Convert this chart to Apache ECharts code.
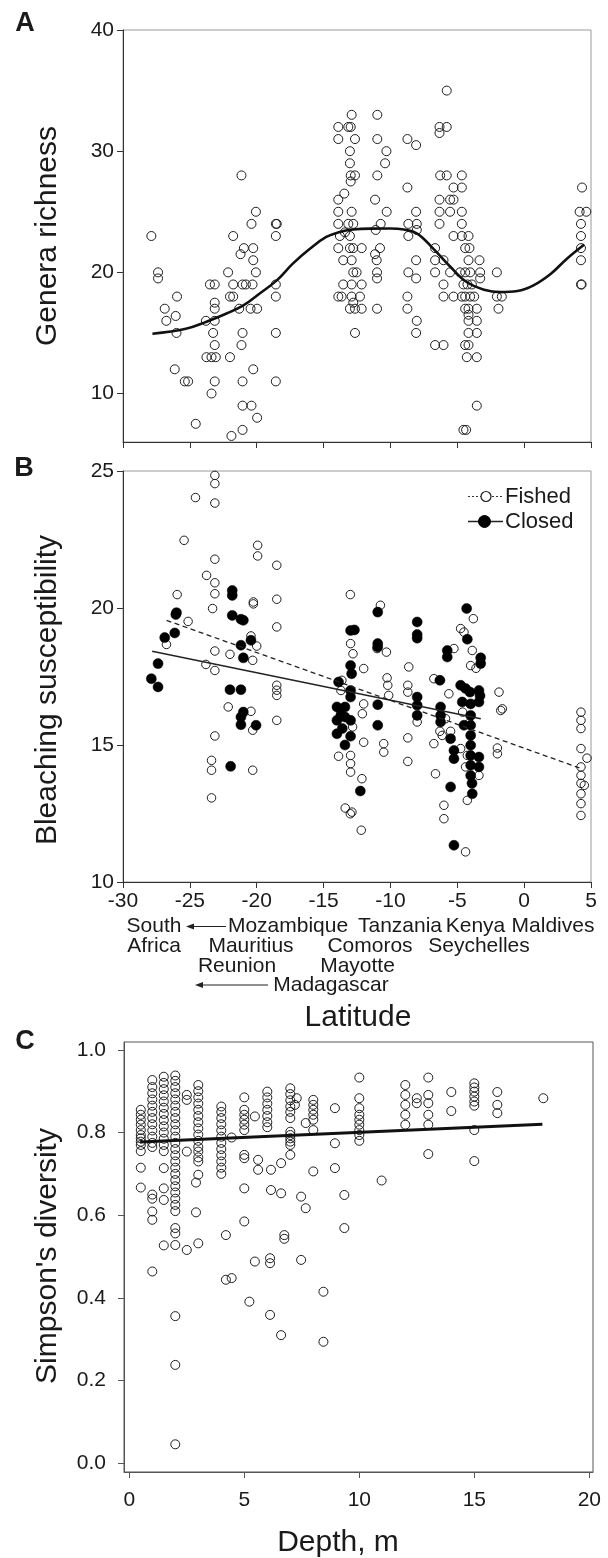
<!DOCTYPE html>
<html><head><meta charset="utf-8">
<script src="https://cdn.jsdelivr.net/npm/echarts@6/dist/echarts.min.js"></script>
<style>html,body{margin:0;padding:0;background:#fff}#c{width:608px;height:1558px}</style>
</head><body><div id="c"></div>
<script>
const FONT = '"Liberation Sans", Arial, Helvetica, sans-serif';

// ---- tick values ----
const latTicks = [-30, -25, -20, -15, -10, -5, 0, 5];
const richTicks = [10, 20, 30, 40];
const bleachTicks = [10, 15, 20, 25];
const depthTicks = [0, 5, 10, 15, 20];
const simpTicks = [0, 0.2, 0.4, 0.6, 0.8, 1.0];

// ---- Panel A: [latitude, genera richness] ----
const pointsA = [
  [-27.88,23],[-27.38,20],[-27.38,19.5],[-26.88,17],[-26.76,16],[-26.06,16.4],[-25.96,18],[-26.0,15],[-26.13,12],
  [-25.38,11],[-25.13,11],[-24.56,7.5],[-23.8,16],[-23.5,19],[-23.14,19],[-23.14,17.5],[-23.14,17],[-23.14,16],
  [-23.26,15],[-23.14,14],[-23.76,13],[-23.38,13],[-23.06,13],[-23.14,11],[-23.38,10],
  [-21.76,23],[-22.14,20],[-22.0,18],[-21.76,18],[-21.76,19],[-21.06,19],[-20.81,19],[-20.31,19],[-21.31,17],
  [-20.46,17],[-19.97,17],[-20.96,22],[-20.26,22],[-21.21,21.5],[-20.26,21],[-20.06,20],[-20.39,24],[-20.06,25],
  [-21.14,28],[-21.06,15],[-21.14,14],[-22.0,13],[-20.26,12],[-21.06,11],[-21.06,9],[-20.39,9],[-19.97,8],
  [-21.06,7],[-21.89,6.5],
  [-18.57,24],[-18.5,24],[-18.57,23],[-18.57,19],[-18.57,18],[-18.57,15],[-18.57,11],
  [-12.9,33],[-13.9,32],[-13.15,32],[-12.97,32],[-13.9,31],[-12.65,31],[-13.03,30],[-13.03,29],[-12.97,28],
  [-12.65,28],[-12.97,27.5],[-13.45,26.5],[-13.9,26],[-13.9,25],[-12.9,25],[-13.9,24],[-13.15,24],[-12.78,24],
  [-13.78,23],[-13.03,23],[-13.4,23.3],[-13.9,22],[-13.03,22],[-12.78,22],[-12.15,22],[-13.53,21],[-12.9,21],
  [-12.78,20],[-12.53,20],[-13.53,19],[-12.9,19],[-12.15,19],[-13.9,18],[-13.65,18],[-12.9,18],[-12.28,18],
  [-13.03,17],[-12.65,17],[-12.15,17],[-12.78,17.5],[-12.65,15],
  [-10.98,33],[-10.98,31],[-10.3,30],[-10.4,29],[-10.98,28],[-11.15,26],[-10.28,25],[-10.73,24],[-11.1,23.5],
  [-10.78,22],[-11.15,21.5],[-11.03,21],[-11.0,20],[-11.0,19.5],[-11.0,17],
  [-8.73,31],[-8.08,30.5],[-8.73,27],[-8.66,24],[-8.03,24],[-8.66,23],[-8.03,23.5],[-8.08,25],[-8.08,21],
  [-8.66,20],[-8.08,19.5],[-8.73,18],[-8.73,17],[-8.03,16],[-8.08,15],[-6.66,14],[-6.03,14],
  [-5.79,35],[-6.33,32],[-5.79,32],[-6.33,31.5],[-6.28,28],[-5.79,28],[-4.66,28],[-5.28,27],[-4.66,27],
  [-6.33,26],[-5.54,26],[-5.28,26],[-6.33,25],[-5.54,25],[-4.66,25],[-6.33,24],[-4.66,24],[-5.28,23],
  [-4.66,23],[-4.16,23],[-6.66,22],[-4.41,22],[-4.09,22],[-6.66,21],[-6.03,21],[-4.16,21],[-3.34,21],
  [-6.66,20],[-5.54,20],[-4.79,20],[-4.41,20],[-4.04,20],[-3.29,20],[-6.03,19],[-4.54,19],[-4.24,19],
  [-3.91,19],[-3.29,19.5],[-6.03,18],[-5.28,18],[-4.66,18],[-4.41,18],[-4.04,18],[-3.74,18],[-4.41,17],
  [-4.16,17],[-3.54,17],[-4.16,16.5],[-4.16,16],[-3.54,16],[-4.16,15],[-3.54,15],[-4.41,14],[-4.16,14],
  [-4.29,13],[-3.54,13],[-3.54,9],[-4.54,7],[-4.34,7],
  [-2.04,20],[-2.04,18],[-1.67,18],[-1.92,17],
  [4.33,27],[4.15,25],[4.65,25],[4.25,24],[4.25,23],[4.25,22],[4.25,21],[4.25,19],[4.3,19]
];
// smooth fit, panel A
const curveA = [
  [-27.8,14.93],[-25.3,15.34],[-23.8,15.9],[-22.3,16.58],[-21.0,17.27],[-19.8,18.24],[-18.5,19.34],[-17.3,20.72],
  [-16.0,21.96],[-14.8,22.92],[-13.8,23.33],[-12.8,23.53],[-11.5,23.61],[-10.0,23.62],[-9.0,23.53],[-8.0,23.2],
  [-6.8,21.96],[-5.5,20.44],[-4.3,19.2],[-3.0,18.57],[-1.8,18.37],[-0.5,18.46],[0.7,18.93],[2.0,19.89],
  [3.2,21.13],[4.5,22.3]
];

// ---- Panel B: [latitude, bleaching susceptibility] ----
const fished = [
  [-23.13,24.84],[-23.13,24.54],[-23.13,23.83],[-24.58,24.03],[-25.43,22.47],[-23.13,21.78],[-23.75,21.19],
  [-23.13,20.92],[-23.13,20.52],[-23.3,19.98],[-25.95,20.49],[-25.13,19.51],[-26.75,18.67],[-23.13,18.43],
  [-22.0,18.31],[-23.8,17.94],[-23.13,17.72],[-22.13,16.39],[-23.13,15.33],[-23.38,14.44],[-23.38,14.08],
  [-23.38,13.07],[-19.93,22.29],[-19.93,21.9],[-18.5,21.56],[-20.25,20.22],[-20.25,20.15],[-18.5,20.32],
  [-18.5,19.31],[-20.43,18.98],[-20.0,18.61],[-20.3,18.09],[-18.5,17.18],[-18.5,17.0],[-18.5,16.81],
  [-20.43,16.23],[-18.5,15.9],[-20.3,15.54],[-20.3,14.08],
  [-13.0,20.49],[-13.63,17.36],[-13.88,14.59],[-13.38,12.7],[-13.0,12.49],[-12.98,18.7],[-12.8,18.33],
  [-13.7,16.99],[-12.98,14.62],[-12.98,14.32],[-12.98,14.01],[-12.83,15.66],[-12.13,13.77],[-12.18,11.89],
  [-12.88,12.55],[-12.0,15.1],[-12.0,16.5],[-12.0,17.79],[-12.1,16.14],
  [-10.75,20.1],[-10.3,18.39],[-8.63,17.85],[-8.7,17.18],[-8.7,16.93],[-10.25,17.45],[-10.2,17.18],
  [-10.13,16.81],[-11.0,18.52],[-10.5,15.05],[-10.5,14.74],[-8.7,15.26],[-8.7,14.4],[-8.0,16.08],[-8.0,15.84],
  [-6.75,17.42],[-6.3,17.36],[-5.63,16.87],[-5.25,18.52],[-5.88,15.96],[-6.13,15.35],[-6.75,15.05],[-5.5,15.5],
  [-6.63,13.95],[-6.0,12.8],[-6.0,12.31],[-4.75,19.25],[-4.5,19.12],[-3.8,19.61],[-3.88,18.45],[-4.0,17.9],
  [-4.38,11.1],[-4.25,12.98],[-4.38,14.2],[-4.75,14.87],[-4.25,14.62],[-3.38,13.89],[-6.3,15.5],[-4.6,16.2],
  [-3.6,17.8],[-4.1,15.8],
  [-1.88,16.93],[-1.75,16.26],[-1.63,16.32],[-2.0,14.89],[-2.0,14.68],
  [4.25,16.2],[4.25,15.9],[4.25,15.6],[4.25,14.87],[4.7,14.52],[4.25,14.2],[4.25,13.89],[4.25,13.6],
  [4.5,13.53],[4.25,13.22],[4.25,12.86],[4.25,12.43]
];
const closed = [
  [-27.88,17.42],[-27.38,17.12],[-27.38,17.97],[-26.88,18.92],[-26.13,19.09],[-26.05,19.76],[-26.0,19.83],
  [-21.83,20.64],[-21.83,20.46],[-21.83,19.73],[-21.18,19.59],[-21.0,19.55],[-21.18,18.64],[-20.43,18.82],
  [-21.0,18.18],[-22.0,17.02],[-21.18,17.02],[-21.0,16.2],[-21.18,16.02],[-21.18,15.74],[-20.05,15.72],
  [-21.95,14.22],
  [-13.88,17.3],[-14.0,16.39],[-14.0,15.9],[-14.0,15.41],[-13.4,16.39],[-13.4,16.02],[-13.7,16.1],[-13.6,15.6],
  [-13.4,15.0],[-12.98,19.18],[-12.69,19.2],[-12.98,17.9],[-12.98,16.99],[-12.98,16.75],[-12.98,15.9],
  [-12.98,15.32],[-12.25,13.32],[-12.9,17.6],
  [-10.95,19.85],[-10.95,18.7],[-10.95,18.58],[-10.95,16.47],[-10.95,15.72],[-8.0,19.49],[-8.0,19.03],
  [-8.0,18.9],[-8.0,16.75],[-8.0,16.45],[-8.0,16.08],[-5.75,18.45],[-5.75,18.21],[-6.3,17.36],[-6.25,16.39],
  [-6.25,16.08],[-6.25,15.84],[-5.5,15.23],[-5.25,14.8],[-5.25,14.5],[-5.5,13.47],[-5.25,11.34],[-4.3,19.98],
  [-4.25,18.86],[-4.75,17.18],[-4.38,17.06],[-4.05,16.93],[-4.0,16.5],[-4.0,16.08],[-4.0,15.72],[-4.0,15.35],
  [-4.0,14.99],[-4.0,14.62],[-4.0,14.26],[-4.0,13.89],[-3.88,13.22],[-3.25,18.18],[-3.25,17.97],[-3.38,16.99],
  [-3.38,16.57],[-3.38,14.56],[-3.38,14.2],[-4.63,16.57],[-4.5,15.72],[-3.9,13.6],[-3.3,16.8]
];
const fishedFit = [[-26.74,19.55],[4.26,14.14]];
const closedFit = [[-27.82,18.42],[-3.24,15.96]];

// ---- Panel C: [depth, list of Simpson's diversity values] ----
const simpsonCols = [
  [0.5,[0.855,0.843,0.831,0.819,0.806,0.794,0.786,0.778,0.770,0.755,0.715,0.667]],
  [1.0,[0.927,0.91,0.895,0.88,0.865,0.85,0.835,0.82,0.805,0.79,0.775,0.765,0.65,0.64,0.609,0.589,0.464]],
  [1.5,[0.935,0.92,0.905,0.89,0.875,0.86,0.845,0.83,0.815,0.80,0.785,0.77,0.755,0.714,0.665,0.637,0.527]],
  [2.0,[0.938,0.925,0.91,0.895,0.88,0.865,0.85,0.835,0.82,0.805,0.79,0.775,0.76,0.745,0.73,0.715,0.70,0.685,
        0.67,0.655,0.64,0.625,0.61,0.569,0.556,0.528,0.356,0.238,0.046]],
  [2.5,[0.891,0.879,0.754,0.516]],
  [2.9,[0.679,0.607]],
  [3.0,[0.915,0.90,0.885,0.87,0.855,0.84,0.825,0.81,0.795,0.78,0.765,0.754,0.74,0.73,0.698,0.532]],
  [4.0,[0.863,0.85,0.835,0.82,0.805,0.79,0.775,0.76,0.745,0.73,0.715,0.70]],
  [4.2,[0.552,0.444]],
  [4.45,[0.788,0.448]],
  [5.0,[0.885,0.855,0.843,0.831,0.819,0.806,0.746,0.738,0.665,0.585]],
  [5.22,[0.391]],
  [5.46,[0.839,0.488]],
  [5.6,[0.734,0.71]],
  [6.0,[0.899,0.885,0.87,0.855,0.84,0.825,0.813]],
  [6.16,[0.71,0.661]],
  [6.12,[0.496,0.484,0.359]],
  [6.6,[0.726,0.653,0.31]],
  [6.74,[0.552,0.543]],
  [7.0,[0.907,0.893,0.878,0.863,0.85,0.835,0.802,0.794,0.786,0.778,0.77,0.746]],
  [7.2,[0.867]],
  [7.28,[0.883]],
  [7.47,[0.645,0.492]],
  [7.67,[0.823,0.617]],
  [8.0,[0.879,0.867,0.855,0.843,0.831,0.806,0.706]],
  [8.44,[0.415,0.294]],
  [8.94,[0.859,0.774,0.714]],
  [9.35,[0.649,0.569]],
  [10.0,[0.933,0.883,0.859,0.843,0.831,0.819,0.806,0.794,0.78]],
  [10.97,[0.684]],
  [12.0,[0.915,0.891,0.867,0.843,0.819]],
  [12.5,[0.883,0.871]],
  [13.0,[0.933,0.891,0.871,0.843,0.819,0.748]],
  [14.0,[0.898,0.852]],
  [15.0,[0.919,0.909,0.899,0.887,0.875,0.865,0.806,0.731]],
  [16.0,[0.898,0.867,0.847]],
  [18.0,[0.883]]
];
const depthFit = [[0.47,0.777],[17.96,0.820]];

const pointsC = simpsonCols.flatMap(([d, vals]) => vals.map(v => [d, v]));

// ---- styling helpers ----
const TXT = '#1a1a1a';
function xAx(grid, opt) {
  return Object.assign({
    gridIndex: grid, type: 'value',
    axisLine: {show: true, onZero: false, lineStyle: {color: '#333', width: 1}},
    axisTick: {show: true, length: 6, lineStyle: {color: '#333', width: 1}},
    axisLabel: {show: true, fontSize: 21, fontFamily: FONT, color: TXT, margin: 9},
    splitLine: {show: false}
  }, opt);
}
const openStyle = {color: 'rgba(255,255,255,0)', borderColor: '#1e1e1e', borderWidth: 1, opacity: 1};

const graphics = [];
function txt(x, y, text, size, extra) {
  graphics.push(Object.assign({
    type: 'text', x: x, y: y, silent: true,
    style: {text: text, fill: TXT, font: size + 'px ' + FONT, align: 'center', verticalAlign: 'middle'}
  }, extra || {}));
}
// panel letters
txt(25, 24, 'A', 'bold 27');
txt(24, 469, 'B', 'bold 27');
txt(25, 1042, 'C', 'bold 27');
// axis titles
txt(48, 236, 'Genera richness', 30, {rotation: Math.PI / 2});
txt(48, 690, 'Bleaching susceptibility', 30, {rotation: Math.PI / 2});
txt(48, 1256, "Simpson's diversity", 30, {rotation: Math.PI / 2});
txt(358, 1018, 'Latitude', 30);
txt(338, 1543, 'Depth, m', 30);
// country labels under latitude axis
txt(154, 926.5, 'South', 21);
txt(288, 926.5, 'Mozambique', 21);
txt(400, 926.5, 'Tanzania', 21);
txt(475.5, 926.5, 'Kenya', 21);
txt(553, 926.5, 'Maldives', 21);
txt(154, 946.5, 'Africa', 21);
txt(251, 946.5, 'Mauritius', 21);
txt(370, 946.5, 'Comoros', 21);
txt(479, 946.5, 'Seychelles', 21);
txt(237, 966.5, 'Reunion', 21);
txt(357.5, 966.5, 'Mayotte', 21);
txt(331, 985, 'Madagascar', 21);
// arrows
function arrow(x1, x2, y) {
  graphics.push({type: 'line', silent: true, shape: {x1: x1, y1: y, x2: x2 + 5, y2: y}, style: {stroke: '#222', lineWidth: 1.2}});
  graphics.push({type: 'polygon', silent: true, shape: {points: [[x2, y], [x2 + 8, y - 3], [x2 + 8, y + 3]]}, style: {fill: '#222'}});
}
arrow(226, 186, 926.5);
arrow(268, 195, 985);
// legend (panel B)
graphics.push({type: 'line', silent: true, shape: {x1: 468, y1: 496.5, x2: 503, y2: 496.5}, style: {stroke: '#333', lineWidth: 1.2, lineDash: [2, 2]}});
graphics.push({type: 'circle', silent: true, shape: {cx: 486, cy: 496.5, r: 5}, style: {fill: '#fff', stroke: '#1e1e1e', lineWidth: 1.2}});
graphics.push({type: 'line', silent: true, shape: {x1: 468, y1: 521.5, x2: 503, y2: 521.5}, style: {stroke: '#222', lineWidth: 1.4}});
graphics.push({type: 'circle', silent: true, shape: {cx: 484.5, cy: 521.5, r: 6}, style: {fill: '#000', stroke: '#000', lineWidth: 1}});
txt(505, 496.5, 'Fished', 22, {style: {text: 'Fished', fill: TXT, font: '22px ' + FONT, align: 'left', verticalAlign: 'middle'}});
txt(505, 521.5, 'Closed', 22, {style: {text: 'Closed', fill: TXT, font: '22px ' + FONT, align: 'left', verticalAlign: 'middle'}});

const option = {
  animation: false,
  backgroundColor: '#fff',
  textStyle: {fontFamily: FONT},
  grid: [
    {left: 123, top: 30, width: 468, height: 412, show: true, borderColor: '#9a9a9a', borderWidth: 1, backgroundColor: 'transparent'},
    {left: 123, top: 471, width: 468, height: 411, show: true, borderColor: '#9a9a9a', borderWidth: 1, backgroundColor: 'transparent'},
    {left: 124, top: 1042, width: 469, height: 430, show: true, borderColor: '#555', borderWidth: 1, backgroundColor: 'transparent'}
  ],
  xAxis: [
    xAx(0, {min: latTicks[0], max: latTicks[latTicks.length - 1], interval: 5, axisLabel: {show: false}}),
    xAx(1, {min: latTicks[0], max: latTicks[latTicks.length - 1], interval: 5}),
    xAx(2, {min: -0.23, max: 20.16,
      axisLine: {show: true, onZero: false, lineStyle: {color: '#555', width: 1}},
      axisTick: {show: true, length: 6, customValues: depthTicks, lineStyle: {color: '#555'}},
      axisLabel: {show: true, customValues: depthTicks, fontSize: 21, fontFamily: FONT, color: TXT, margin: 18}})
  ],
  yAxis: [
    xAx(0, {min: 6, max: 40,
      axisTick: {show: true, length: 6, customValues: richTicks, lineStyle: {color: '#333'}},
      axisLabel: {show: true, customValues: richTicks, fontSize: 21, fontFamily: FONT, color: TXT, margin: 9}}),
    xAx(1, {min: bleachTicks[0], max: bleachTicks[bleachTicks.length - 1], interval: 5}),
    xAx(2, {min: -0.021, max: 1.019,
      axisLine: {show: true, onZero: false, lineStyle: {color: '#555', width: 1}},
      axisTick: {show: true, length: 6, customValues: simpTicks, lineStyle: {color: '#555'}},
      axisLabel: {show: true, customValues: simpTicks, fontSize: 21, fontFamily: FONT, color: TXT, margin: 18,
        formatter: v => Number(v).toFixed(1)}})
  ],
  series: [
    {type: 'scatter', xAxisIndex: 0, yAxisIndex: 0, data: pointsA, symbol: 'circle', symbolSize: 9, itemStyle: openStyle, z: 2, silent: true},
    {type: 'line', xAxisIndex: 0, yAxisIndex: 0, data: curveA, smooth: 0.4, showSymbol: false, lineStyle: {color: '#111', width: 2.6}, z: 4, silent: true},
    {name: 'Fished', type: 'scatter', xAxisIndex: 1, yAxisIndex: 1, data: fished, symbol: 'circle', symbolSize: 8.5, itemStyle: openStyle, z: 2, silent: true},
    {name: 'Closed', type: 'scatter', xAxisIndex: 1, yAxisIndex: 1, data: closed, symbol: 'circle', symbolSize: 10, itemStyle: {color: '#000', borderColor: '#000', borderWidth: 0.5, opacity: 1}, z: 3, silent: true},
    {type: 'line', xAxisIndex: 1, yAxisIndex: 1, data: fishedFit, showSymbol: false, lineStyle: {color: '#222', width: 1.3, type: [5, 3.5]}, z: 4, silent: true},
    {type: 'line', xAxisIndex: 1, yAxisIndex: 1, data: closedFit, showSymbol: false, lineStyle: {color: '#222', width: 1.4}, z: 4, silent: true},
    {type: 'scatter', xAxisIndex: 2, yAxisIndex: 2, data: pointsC, symbol: 'circle', symbolSize: 9, itemStyle: openStyle, z: 2, silent: true},
    {type: 'line', xAxisIndex: 2, yAxisIndex: 2, data: depthFit, showSymbol: false, lineStyle: {color: '#111', width: 3}, z: 4, silent: true}
  ],
  graphic: {elements: graphics}
};
const chart = echarts.init(document.getElementById('c'), null, {renderer: 'canvas'});
chart.setOption(option);
</script></body></html>
